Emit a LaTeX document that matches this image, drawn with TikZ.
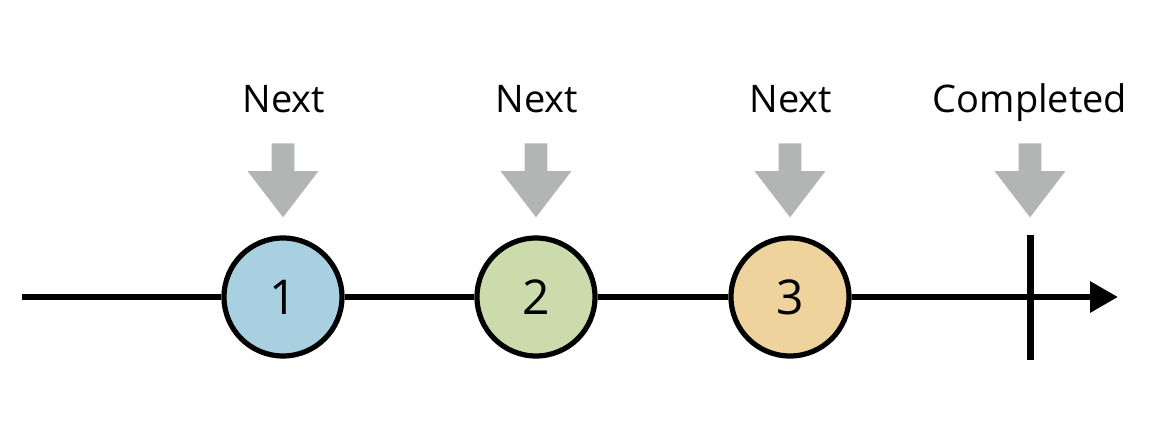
\documentclass[tikz,border=0pt]{standalone}
\usepackage{fontspec}
\setmainfont{Open Sans}
\usepackage{tikz}
\usetikzlibrary{arrows.meta}
\usetikzlibrary{shapes.arrows}
\usepackage{xcolor}
\definecolor{ColA}{RGB}{168,208,224}
\definecolor{ColB}{RGB}{204,219,172}
\definecolor{ColC}{RGB}{238,211,156}
\definecolor{ColD}{RGB}{179,180,180}
\tikzstyle{NodeMarble}=[circle,draw=black,line width=2.6pt,minimum size=59pt,inner sep=0pt,
font=\fontsize{24}{24}\selectfont]
\tikzstyle{NodeLabel}=[anchor=base,inner sep=0pt,font=\fontsize{19}{19}\selectfont]
\tikzstyle{EventArrow}=[single arrow,fill=ColD,rotate=-90,anchor=tip,inner sep=0pt,
inner ysep=5.5pt,minimum height=37pt,single arrow head extend=12pt,single arrow tip angle=75]
\tikzstyle{EdgeTime}=[black,line width=3.2pt]

\begin{document}
\begin{tikzpicture}[x=0.5pt,y=-0.5pt]
        \useasboundingbox(0,0)rectangle(1168,448);
        \coordinate(s)at(22,297);
        \coordinate(e)at(1118,297);
        \node[NodeMarble,fill=ColA](a)at(283,297){1};
        \node[NodeMarble,fill=ColB](b)at(536,297){2};
        \node[NodeMarble,fill=ColC](c)at(790,297){3};
        \coordinate(dt)at(1030,235);
        \coordinate(db)at(1030,360);
        \draw[EdgeTime](s)--(a);
        \draw[EdgeTime](a)--(b);
        \draw[EdgeTime](b)--(c);
        \draw[EdgeTime,-{Triangle[length=14pt,width=15pt]}](c)--(e);
        \draw[EdgeTime,line width=3.5pt](dt)--(db);
        \node[EventArrow](pa)at(283,218){};
        \node[EventArrow](pb)at(536,218){};
        \node[EventArrow](pc)at(790,218){};
        \node[EventArrow](pd)at(1030,218){};
        \node[NodeLabel](la)at(284,113){Next};
        \node[NodeLabel](lb)at(537,113){Next};
        \node[NodeLabel](lc)at(791,113){Next};
        \node[NodeLabel](ld)at(1030,113){Completed};
    \end{tikzpicture}
\end{document}
